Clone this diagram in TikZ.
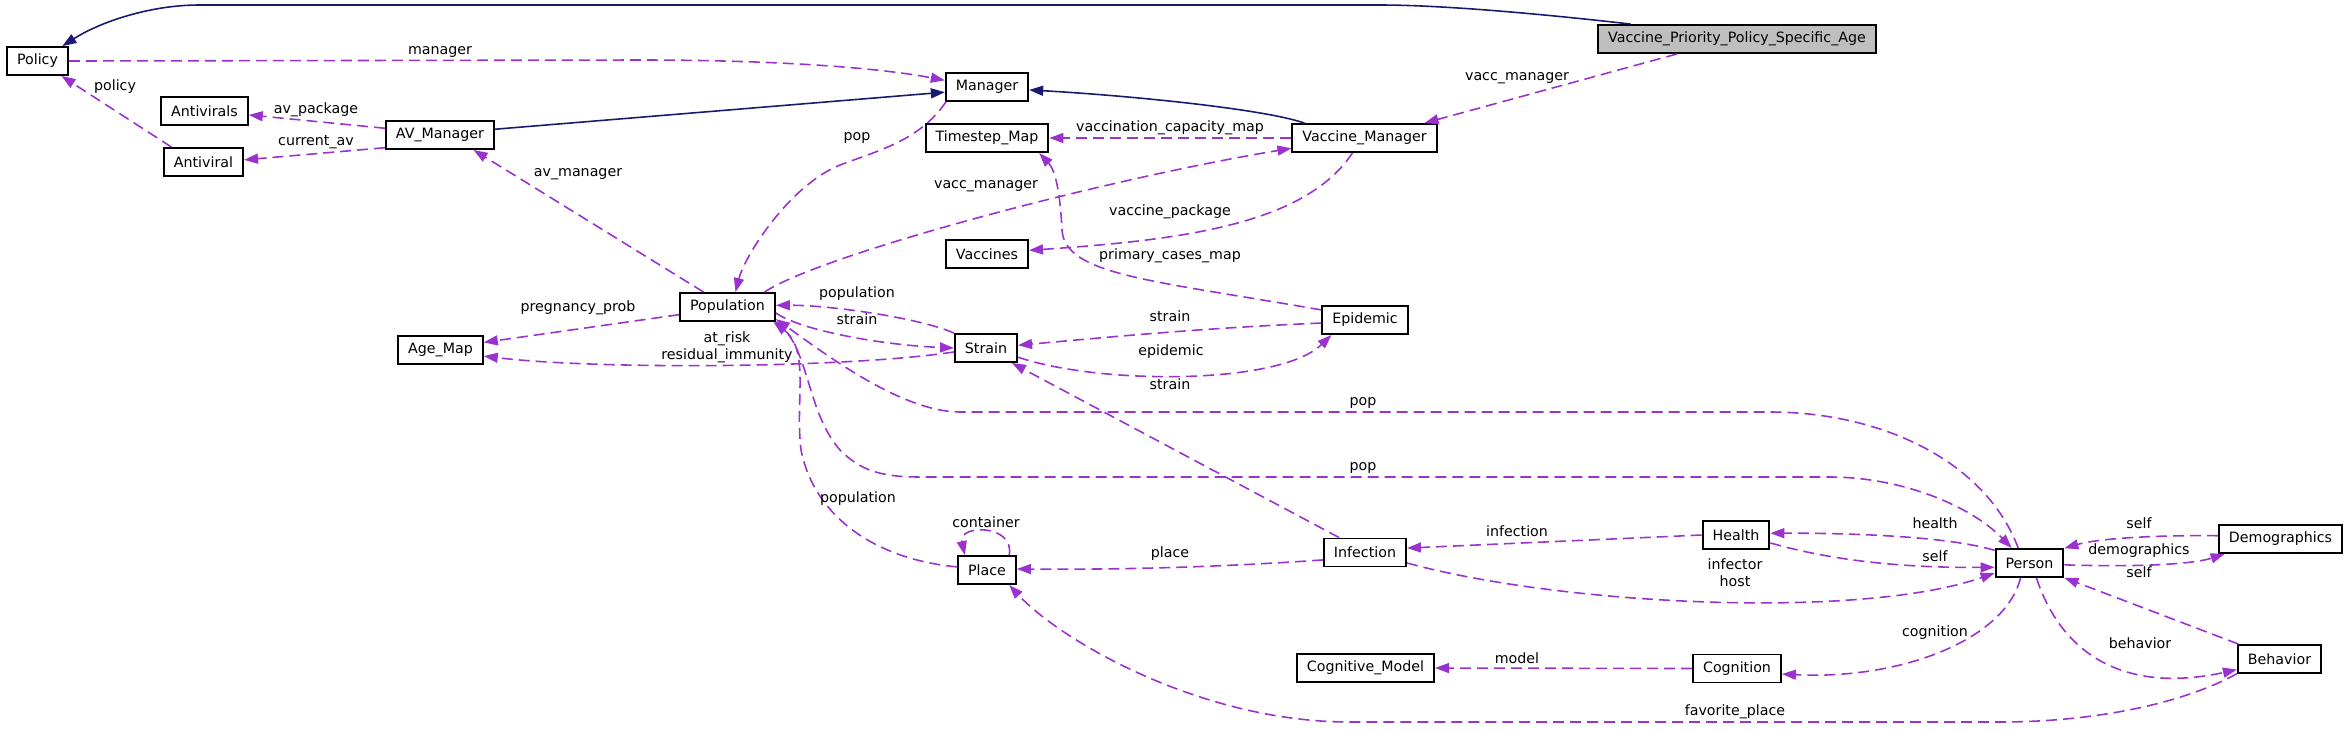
\documentclass[tikz,border=0pt]{standalone}
\usepackage{fontspec}
\setmainfont{DejaVu Sans}
\usetikzlibrary{arrows.meta}
\definecolor{dxpurple}{RGB}{154,50,205}
\definecolor{dxblue}{RGB}{25,25,112}
\definecolor{dxgrey}{RGB}{191,191,191}

\begin{document}
\begin{tikzpicture}[x=0.02cm, y=-0.02cm,
        cls/.style={rectangle, draw=black, fill=white, line width=1.1pt, minimum height=0.56cm, inner xsep=0.2cm, inner ysep=0pt, font=\fontsize{8.1}{9.7}\selectfont},
        focus/.style={cls, fill=dxgrey},
        use/.style={-{Triangle[length=0.28cm,width=0.2cm]}, dxpurple, line width=0.9pt, dash pattern=on 0.22cm off 0.12cm},
        inh/.style={-{Triangle[length=0.28cm,width=0.2cm]}, dxblue, line width=0.9pt},
        lbl/.style={font=\fontsize{8.1}{9.7}\selectfont, inner sep=0pt, align=center}
    ]
        \useasboundingbox (0,0) rectangle (2349,728);

        % Classes
        \node[cls] (policy) at (37.5,61) {Policy};
        \node[cls] (antivirals) at (204.5,111) {Antivirals};
        \node[cls] (antiviral) at (203.5,162) {Antiviral};
        \node[cls] (avmanager) at (440,135) {AV\_Manager};
        \node[cls] (agemap) at (440.5,350) {Age\_Map};
        \node[cls] (population) at (727.5,307) {Population};
        \node[cls] (manager) at (987,87) {Manager};
        \node[cls] (timestepmap) at (987,138) {Timestep\_Map};
        \node[cls] (vaccines) at (987,254) {Vaccines};
        \node[cls] (strain) at (986,348) {Strain};
        \node[cls] (place) at (987,570) {Place};
        \node[cls] (vaccinemanager) at (1364.5,138) {Vaccine\_Manager};
        \node[cls] (epidemic) at (1365,320) {Epidemic};
        \node[cls] (infection) at (1365,552.5) {Infection};
        \node[cls] (cognitivemodel) at (1365.5,668) {Cognitive\_Model};
        \node[focus] (vppsa) at (1737,39) {Vaccine\_Priority\_Policy\_Specific\_Age};
        \node[cls] (health) at (1736,535) {Health};
        \node[cls] (cognition) at (1737,668.5) {Cognition};
        \node[cls] (person) at (2029.5,563) {Person};
        \node[cls] (demographics) at (2280.5,539) {Demographics};
        \node[cls] (behavior) at (2279.5,659) {Behavior};

        % Inheritance
        \draw[inh] (vppsa.172) .. controls (1560,16) and (1450,5) .. (1380,5) -- (199,5) .. controls (150,5) and (100,22) .. (policy.31);
        \draw[inh] (avmanager.6) -- (manager.187);
        \draw[inh] (vaccinemanager.166) .. controls (1260,108) and (1120,95) .. (manager.-4);

        % Usage
        \draw[use] (policy.east) -- (640,60) .. controls (780,60) and (880,68) .. (manager.171);
        \draw[use] (antiviral.155) -- (policy.-32);
        \draw[use] (avmanager.173) -- (antivirals.-5);
        \draw[use] (avmanager.193) -- (antiviral.3);
        \draw[use] (vppsa.194) -- (vaccinemanager.14);
        \draw[use] (vaccinemanager.west) -- (timestepmap.east);
        \draw[use] (population.22) .. controls (820,255) and (1100,180) .. (vaccinemanager.188);
        \draw[use] (vaccinemanager.231) .. controls (1305,225) and (1180,240) .. (vaccines.5);
        \draw[use] (epidemic.167) .. controls (1150,280) and (1065,275) .. (1062,230) .. controls (1060,190) and (1055,170) .. (timestepmap.-16);
        \draw[use] (manager.200) .. controls (920,140) and (880,150) .. (840,165) .. controls (790,185) and (745,255) .. (population.62);
        \draw[use] (population.148) -- (avmanager.-24);
        \draw[use] (population.189) -- (agemap.10);
        \draw[use] (strain.187) .. controls (850,368) and (600,370) .. (agemap.-8);
        \draw[use] (strain.155) .. controls (920,318) and (830,305) .. (population.2);
        \draw[use] (population.-7) .. controls (800,330) and (880,345) .. (strain.west);
        \draw[use] (epidemic.184) .. controls (1200,328) and (1100,338) .. (strain.5);
        \draw[use] (strain.-16) .. controls (1100,385) and (1280,385) .. (epidemic.204);
        \draw[use] (infection.150) -- (strain.-30);
        \draw[use] (person.127) .. controls (1985,460) and (1880,412) .. (1770,412) -- (960,412) .. controls (900,412) and (820,350) .. (population.-14);
        \draw[use] (population.south east) .. controls (810,345) and (805,410) .. (840,450) .. controls (860,470) and (880,477) .. (920,477) -- (1830,477) .. controls (1900,477) and (1970,505) .. (person.140);
        \draw[use] (place.174) .. controls (880,560) and (815,520) .. (801,450) .. controls (795,400) and (810,350) .. (population.-18);
        \draw[use] (place.34) .. controls (1015,524) and (958,524) .. (place.146);
        \draw[use] (infection.190) .. controls (1250,565) and (1150,570) .. (place.2);
        \draw[use] (health.west) -- (infection.6);
        \draw[use] (infection.-14) .. controls (1560,605) and (1860,620) .. (person.196);
        \draw[use] (person.160) .. controls (1950,537) and (1860,533) .. (health.3);
        \draw[use] (health.-13) .. controls (1830,560) and (1900,568) .. (person.187);
        \draw[use] (demographics.177) .. controls (2160,535) and (2100,538) .. (person.23);
        \draw[use] (person.-3) .. controls (2130,567) and (2190,565) .. (demographics.195);
        \draw[use] (behavior.160) -- (person.-23);
        \draw[use] (person.-65) .. controls (2060,650) and (2120,695) .. (behavior.194);
        \draw[use] (person.239) .. controls (2005,640) and (1900,680) .. (cognition.-7);
        \draw[use] (cognition.west) -- (cognitivemodel.east);
        \draw[use] (behavior.199) .. controls (2180,705) and (2090,722) .. (2000,722) -- (1350,722) .. controls (1200,722) and (1060,640) .. (place.-34);

        % Member names
        \node[lbl] (lmanager) at (440,52) {manager};
        \node[lbl] (lpolicy) at (115,87) {policy};
        \node[lbl] (lavpackage) at (316,110) {av\_package};
        \node[lbl] (lcurrentav) at (316,142) {current\_av};
        \node[lbl] (lavmanager) at (578,174) {av\_manager};
        \node[lbl] (lpregnancy) at (578,308) {pregnancy\_prob};
        \node[lbl] (lpopmanager) at (857,138) {pop};
        \node[lbl] (lvaccpop) at (986,186) {vacc\_manager};
        \node[lbl] (lcapacity) at (1170,128) {vaccination\_capacity\_map};
        \node[lbl] (lvaccvppsa) at (1517,78) {vacc\_manager};
        \node[lbl] (lvaccpackage) at (1170,212) {vaccine\_package};
        \node[lbl] (lprimary) at (1170,256) {primary\_cases\_map};
        \node[lbl] (lpopstrain) at (857,294) {population};
        \node[lbl] (lstrainpop) at (857,319) {strain};
        \node[lbl] (latrisk) at (727,347) {at\_risk\\residual\_immunity};
        \node[lbl] (lstrainepi) at (1170,316) {strain};
        \node[lbl] (lepidemic) at (1171,352) {epidemic};
        \node[lbl] (lstraininf) at (1170,384) {strain};
        \node[lbl] (lpopupper) at (1363,403) {pop};
        \node[lbl] (lpoplower) at (1363,468) {pop};
        \node[lbl] (lpopplace) at (858,499) {population};
        \node[lbl] (lcontainer) at (986,522) {container};
        \node[lbl] (lplace) at (1170,554) {place};
        \node[lbl] (linfection) at (1517,531) {infection};
        \node[lbl] (lhealth) at (1935,523) {health};
        \node[lbl] (lselfhealth) at (1935,556) {self};
        \node[lbl] (linfector) at (1735,573) {infector\\host};
        \node[lbl] (lselfdemo) at (2139,523) {self};
        \node[lbl] (ldemographics) at (2139,551) {demographics};
        \node[lbl] (lselfbehavior) at (2139,572) {self};
        \node[lbl] (lcognition) at (1935,633) {cognition};
        \node[lbl] (lbehavior) at (2140,643) {behavior};
        \node[lbl] (lmodel) at (1517,658) {model};
        \node[lbl] (lfavorite) at (1735,712) {favorite\_place};
\end{tikzpicture}
\end{document}
